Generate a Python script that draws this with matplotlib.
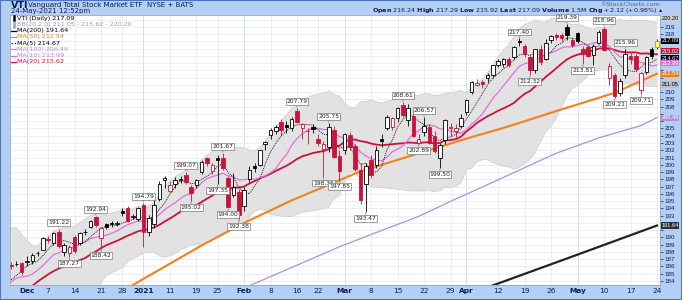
import numpy as np
import pandas as pd
import matplotlib
matplotlib.use('Agg')
import matplotlib.pyplot as plt
from matplotlib.patches import Rectangle

plt.rcParams['font.family'] = ['DejaVu Sans']

# trading days shown on the chart (Nov 25 2020 .. May 24 2021)
holidays = ['2020-11-26', '2020-12-25', '2021-01-01', '2021-01-18',
            '2021-02-15', '2021-04-02']
days = pd.bdate_range('2020-11-25', '2021-05-24', freq='C', holidays=holidays)

# closes before the window (Oct 28 .. Nov 24), only feed the MA / BB
pre_close = [167.5, 169.5, 167.4, 169.5, 172.5, 176.3, 179.7, 179.7, 181.8, 181.5,
             182.9, 181.1, 183.6, 185.7, 184.8, 182.7, 183.4, 182.1, 183.2, 186.1]

# daily OHLC
opens = [186.2, 186.3, 186.5,                                              # Nov
         186.6, 186.7, 187.8, 188.3, 189.8, 189.2, 190.8, 188.0, 187.9, 190.1,
         189.3, 190.7, 191.5, 192.8, 189.9, 191.8, 192.0, 191.9, 193.7, 194.0,
         192.8, 192.5,                                                     # Dec
         194.5, 190.7, 191.8, 195.3, 197.9, 196.4, 197.3, 197.9, 198.6, 196.9,
         197.2, 199.0, 200.9, 199.1, 200.9, 200.9, 198.2, 195.9, 196.3,    # Jan
         194.3, 198.0, 199.9, 200.0, 202.9, 204.1, 204.6, 205.9, 205.5, 205.0,
         207.4, 205.0, 204.7, 205.2, 203.6, 202.2, 202.5, 204.8, 201.2,    # Feb
         202.0, 204.1, 202.6, 199.3, 197.3, 200.6, 200.0, 203.6, 205.0, 205.2,
         206.4, 208.2, 206.2, 206.7, 203.0, 204.5, 205.2, 203.9, 200.9, 203.4,
         205.0, 204.6, 205.3,                                              # Mar
         207.2, 210.0, 211.0, 211.4, 211.9, 212.4, 213.8, 213.9, 214.6, 214.8,
         217.0, 216.3, 214.9, 213.0, 216.0, 214.6, 217.2, 217.9, 217.8, 219.0,
         217.2,                                                            # Apr
         218.1, 216.0, 216.2, 215.1, 216.8, 218.7, 212.0, 212.4, 209.9, 212.3,
         215.0, 215.0, 210.3, 212.8, 215.9, 216.24]                        # May
highs = [186.6, 186.7, 186.6,
         187.5, 187.8, 188.1, 190.0, 190.2, 190.8, 191.22, 189.2, 188.9, 190.4,
         190.7, 191.2, 192.4, 192.94, 191.5, 192.0, 192.3, 192.2, 194.0, 194.3,
         193.2, 194.2,
         194.79, 193.1, 195.3, 197.8, 198.5, 197.8, 198.3, 198.4, 199.07, 197.2,
         198.0, 200.6, 201.1, 200.2, 201.3, 201.67, 198.5, 198.9, 196.6,
         196.9, 199.8, 200.3, 202.1, 203.3, 205.0, 205.5, 206.3, 206.0, 206.6,
         207.79, 205.8, 205.0, 205.6, 204.2, 203.3, 205.75, 205.4, 202.0,
         204.4, 204.5, 202.9, 200.3, 200.2, 201.4, 202.6, 204.2, 206.9, 206.6,
         207.9, 208.61, 208.3, 207.4, 204.2, 206.57, 205.6, 204.6, 203.0, 206.3,
         205.8, 205.6, 207.0,
         209.0, 211.6, 211.8, 211.7, 212.6, 213.8, 214.5, 214.7, 214.8, 216.4,
         217.40, 216.6, 215.2, 216.0, 216.5, 217.3, 217.8, 218.1, 218.2, 219.39,
         217.5,
         218.3, 216.3, 216.5, 216.6, 218.6, 218.96, 214.0, 212.7, 212.0, 215.96,
         215.4, 215.3, 212.8, 215.0, 216.2, 217.29]
lows = [185.6, 186.0, 184.8,
        186.1, 186.3, 187.4, 188.2, 189.2, 189.0, 188.6, 187.4, 187.27, 187.9,
        189.0, 190.3, 191.3, 191.5, 188.42, 191.1, 191.5, 191.6, 193.0, 192.1,
        192.5, 192.2,
        188.7, 190.2, 191.3, 195.0, 196.8, 196.1, 196.8, 197.5, 197.4, 195.02,
        196.8, 198.8, 199.9, 198.8, 197.35, 199.3, 194.00, 195.5, 192.38,
        193.6, 197.6, 199.0, 199.8, 202.1, 203.6, 204.3, 203.9, 204.4, 204.7,
        205.7, 203.6, 202.9, 204.4, 202.6, 198.36, 201.8, 200.9, 197.85,
        201.5, 202.1, 199.2, 194.6, 193.47, 198.2, 199.6, 202.5, 204.8, 204.8,
        205.9, 206.6, 205.4, 203.8, 202.89, 204.0, 202.8, 201.6, 199.50, 202.9,
        203.9, 203.8, 205.1,
        206.8, 209.8, 210.8, 210.6, 211.4, 212.0, 213.4, 213.5, 213.4, 214.6,
        216.3, 214.8, 212.32, 212.7, 213.7, 214.4, 216.8, 217.2, 217.1, 217.2,
        216.2,
        216.8, 213.81, 214.9, 213.8, 216.6, 215.6, 211.0, 209.21, 209.5, 212.0,
        213.9, 212.9, 209.71, 212.5, 214.6, 215.92]
closes = [186.0, 186.4, 185.2,
          186.8, 187.6, 187.9, 189.9, 189.6, 190.6, 188.8, 189.0, 188.7, 188.1,
          190.6, 190.8, 192.3, 191.7, 191.3, 191.5, 191.8, 192.0, 193.3, 192.3,
          192.9, 194.0,
          190.8, 192.7, 194.4, 197.4, 198.2, 197.2, 197.9, 198.1, 197.6, 196.1,
          197.9, 200.4, 200.2, 200.0, 200.6, 199.6, 194.2, 197.0, 193.1,
          196.5, 199.3, 199.5, 202.0, 203.2, 204.8, 205.2, 204.8, 205.25, 206.3,
          205.9, 205.6, 204.6, 204.9, 203.0, 202.9, 205.2, 201.1, 199.2,
          204.2, 202.4, 199.4, 195.1, 199.9, 198.6, 202.0, 203.3, 206.6, 206.4,
          207.8, 206.9, 207.8, 203.9, 203.6, 205.4, 203.0, 201.9, 202.7, 206.2,
          205.2, 205.0, 206.4,
          208.9, 211.4, 211.2, 211.1, 212.4, 213.7, 214.3, 214.5, 213.7, 216.2,
          216.9, 215.2, 213.1, 215.9, 214.2, 216.8, 217.7, 217.55, 217.45, 217.9,
          216.5,
          217.0, 215.2, 215.0, 216.4, 218.3, 215.8, 213.6, 209.5, 211.6, 215.2,
          214.6, 213.2, 212.6, 214.9, 214.97, 217.09]

# long moving averages (they need history beyond the window)
ma50_dates = ['2020-12-24', '2021-01-20', '2021-02-01', '2021-02-12', '2021-03-04',
              '2021-03-22', '2021-04-01', '2021-04-14', '2021-04-27', '2021-05-12',
              '2021-05-24']
ma50_vals = [182.2, 188.9, 192.0, 195.1, 199.1, 201.8, 203.6, 205.3, 207.4, 209.9, 212.54]
ma100_dates = ['2021-01-28', '2021-02-26', '2021-03-08', '2021-03-19', '2021-03-30',
               '2021-04-06', '2021-04-27', '2021-05-07', '2021-05-19', '2021-05-24']
ma100_vals = [182.4, 188.7, 190.4, 192.9, 195.3, 196.6, 201.6, 203.7, 205.4, 206.49]
ma200_dates = ['2021-04-06', '2021-04-29', '2021-05-24']
ma200_vals = [182.6, 187.1, 191.64]

# high / low callouts: (date, 'h' or 'l')
callouts = [('2020-12-09', 'h'), ('2020-12-11', 'l'), ('2020-12-18', 'h'), ('2020-12-21', 'l'),
            ('2021-01-04', 'h'), ('2021-01-14', 'h'), ('2021-01-15', 'l'), ('2021-01-25', 'l'),
            ('2021-01-26', 'h'), ('2021-01-27', 'l'), ('2021-01-29', 'l'), ('2021-02-16', 'h'),
            ('2021-02-23', 'l'), ('2021-02-24', 'h'), ('2021-02-26', 'l'), ('2021-03-05', 'l'),
            ('2021-03-16', 'h'), ('2021-03-19', 'l'), ('2021-03-22', 'h'), ('2021-03-25', 'l'),
            ('2021-04-16', 'h'), ('2021-04-20', 'l'), ('2021-04-29', 'h'), ('2021-05-04', 'l'),
            ('2021-05-10', 'h'), ('2021-05-12', 'l'), ('2021-05-14', 'h'), ('2021-05-19', 'l')]

tick_dates = ['2020-12-01', '2020-12-07', '2020-12-14', '2020-12-21', '2020-12-28',
              '2021-01-04', '2021-01-11', '2021-01-19', '2021-01-25', '2021-02-01',
              '2021-02-08', '2021-02-16', '2021-02-22', '2021-03-01', '2021-03-08',
              '2021-03-15', '2021-03-22', '2021-03-29', '2021-04-01', '2021-04-12',
              '2021-04-19', '2021-04-26', '2021-05-03', '2021-05-10', '2021-05-17',
              '2021-05-24']
tick_labels = ['Dec', '7', '14', '21', '28', '2021', '11', '19', '25', 'Feb', '8', '16',
               '22', 'Mar', '8', '15', '22', '29', 'Apr', '12', '19', '26', 'May', '10',
               '17', '24']
month_labels = {'Dec', '2021', 'Feb', 'Mar', 'Apr', 'May'}

# legend rows and last-value boxes on the price axis
legend_rows = [('VTI (Daily) 217.09', 'black', None),
               ('BB(20,2.0) 211.05 - 215.62 - 220.20', '#a0a0a0', None),
               ('MA(200) 191.64', 'black', '-'),
               ('MA(50) 212.54', '#f0821e', '-'),
               ('MA(5) 214.67', 'black', ':'),
               ('MA(100) 206.49', '#b48cdc', '-'),
               ('MA(10) 213.99', '#e070e0', '-'),
               ('MA(20) 215.62', '#c8143c', '-')]
value_boxes = [('220.20', '#d0d0d0', 'black'), ('217.09', 'black', 'white'),
               ('215.62', '#c8143c', 'white'), ('214.67', 'black', 'white'),
               ('213.99', '#e070e0', 'white'), ('212.54', '#f0821e', 'white'),
               ('211.05', '#c0c0c0', 'black'), ('206.49', '#b48cdc', 'white'),
               ('191.64', '#303030', 'white')]

W, H = 682, 300
NAVY = '#0c1c5c'
RED = '#c8143c'
NARROW = ['Liberation Sans', 'DejaVu Sans']

o, h, l, c = (np.array(v) for v in (opens, highs, lows, closes))
n = len(c)
x = np.arange(n)

s = pd.Series(pre_close + closes)
ma5 = s.rolling(5).mean().to_numpy()[-n:]
ma10 = s.rolling(10).mean().to_numpy()[-n:]
ma20 = s.rolling(20).mean().to_numpy()[-n:]
sd20 = s.rolling(20).std(ddof=0).to_numpy()[-n:]
bb_up, bb_lo = ma20 + 2 * sd20, ma20 - 2 * sd20

fig = plt.figure(figsize=(W / 100, H / 100), dpi=100, facecolor='#b4cff2')
ax = fig.add_axes([10 / W, 1 - 285 / H, 650 / W, 270.5 / H])
ax.set_facecolor('white')
ax.set_xlim(-0.21, 122.57)
ax.set_ylim(183.45, 220.69)

# grid
yticks = list(range(184, 221))
ax.set_yticks(yticks)
ax.grid(True, color='#e3e7ed', lw=0.5)
ax.set_axisbelow(True)
tick_idx = days.get_indexer(pd.to_datetime(tick_dates))
for t, lab in zip(tick_idx, tick_labels):
    if lab in month_labels:
        ax.axvline(t, color='#c4cad4', lw=0.6, zorder=0.5)

# bollinger band
ax.fill_between(x, bb_lo, bb_up, color='#e2e2e2', lw=0, zorder=1)
ax.plot(x, bb_up, color='#cccccc', lw=0.5, zorder=1.1)
ax.plot(x, bb_lo, color='#cccccc', lw=0.5, zorder=1.1)

# moving averages
ax.plot(days.get_indexer(pd.to_datetime(ma200_dates)), ma200_vals, color='#222222', lw=1.6, zorder=2)
ax.plot(days.get_indexer(pd.to_datetime(ma100_dates)), ma100_vals, color='#b48cdc', lw=0.9, zorder=2)
ax.plot(days.get_indexer(pd.to_datetime(ma50_dates)), ma50_vals, color='#f0821e', lw=1.5, zorder=2)
ax.plot(x, ma20, color=RED, lw=1.3, zorder=2.2)
ax.plot(x, ma10, color='#e070e0', lw=0.9, zorder=2.3)
ax.plot(x, ma5, color='black', lw=0.6, ls=(0, (1.2, 1.2)), zorder=2.4)

# candles: black = up vs previous close, red = down; hollow = close above open
prev = np.r_[pre_close[-1], c[:-1]]
cols = np.where(c >= prev, 'black', RED).astype(object)
faces = np.where(c > o, 'white', cols).astype(object)
faces[-1] = '#ffff70'
edges = cols.copy()
edges[-1] = '#a8a800'
ax.vlines(x, l, h, colors=list(cols), lw=0.6, zorder=4)
ax.bar(x, np.maximum(np.abs(c - o), 0.05), 0.66, bottom=np.minimum(o, c),
       color=list(faces), edgecolor=list(edges), lw=0.6, zorder=5)

# high / low callouts
for d, kind in callouts:
    i = days.get_loc(pd.Timestamp(d))
    val = h[i] if kind == 'h' else l[i]
    off = 2.8 if kind == 'h' else -2.8
    ax.annotate(f'{val:.2f}', xy=(i, val), xytext=(0, off), textcoords='offset points',
                ha='center', va='bottom' if kind == 'h' else 'top', fontsize=4.3,
                color='#202020', zorder=8,
                bbox=dict(boxstyle='square,pad=0.15', fc='white', ec='#7a7a7a', lw=0.5),
                arrowprops=dict(arrowstyle='-', color='#7a7a7a', lw=0.5, shrinkA=0, shrinkB=0.5))

# axes cosmetics
ax.yaxis.tick_right()
ax.tick_params(axis='y', labelsize=4.5, colors=NAVY, length=2, pad=1, width=0.5)
box_vals = [float(v) for v, _, _ in value_boxes]
ylabs = [str(t) if min(abs(t - b) for b in box_vals) > 0.7 else '' for t in yticks]
ax.set_yticklabels(ylabs, family=NARROW)
ax.set_xticks(tick_idx)
ax.set_xticklabels(tick_labels)
ax.tick_params(axis='x', labelsize=5.3, colors=NAVY, length=0, pad=2.5)
for lab in ax.get_xticklabels():
    if lab.get_text() in month_labels:
        lab.set_fontweight('bold')
for sp in ax.spines.values():
    sp.set_color('#8ea8cc')
    sp.set_linewidth(0.6)

for val, fc, tc in value_boxes:
    ax.text(1.002, float(val), val, transform=ax.get_yaxis_transform(), fontsize=4.1,
            family=NARROW, color=tc, ha='left', va='center', zorder=10, clip_on=False,
            bbox=dict(boxstyle='square,pad=0.1', fc=fc, ec='none'))

# legend rows inside the plot
for k, (txt, col, ls) in enumerate(legend_rows):
    py = 18.3 + k * 6.2
    if ls is not None:
        fig.add_artist(plt.Line2D([11 / W, 16 / W], [1 - py / H] * 2, color=col, lw=0.9, ls=ls))
    else:
        fig.add_artist(plt.Line2D([13.5 / W, 13.5 / W], [1 - (py + 2) / H, 1 - (py - 2) / H],
                                  color=col, lw=1.8))
    fig.text(17 / W, 1 - py / H, txt, fontsize=4.6, color=col, va='center', ha='left')

# header band
fig.text(11 / W, 1 - 5.0 / H, 'VTI', fontsize=6.8, fontweight='bold', color=NAVY, va='center')
fig.text(28 / W, 1 - 5.0 / H, 'Vanguard Total Stock Market ETF  NYSE + BATS', fontsize=5.0,
         color=NAVY, va='center')
fig.text(11 / W, 1 - 11.3 / H, '24-May-2021 12:52pm', fontsize=5.0, color=NAVY, va='center')
fig.text(660 / W, 1 - 4.0 / H, '\u00a9StockCharts.com', fontsize=4.5, color='#506080',
         va='center', ha='right')
fig.text(663 / W, 1 - 10.4 / H,
         r'$\mathbf{Open}$ 216.24 $\mathbf{High}$ 217.29 $\mathbf{Low}$ 215.92 '
         r'$\mathbf{Last}$ 217.09 $\mathbf{Volume}$ 1.5M $\mathbf{Chg}$ +2.12 (+0.98%) $\blacktriangle$',
         fontsize=4.6, color=NAVY, va='center', ha='right')

fig.add_artist(Rectangle((0, 0), 1, 1, transform=fig.transFigure, fill=False,
                         ec='#4a78c0', lw=1.5))

fig.savefig('out.png', dpi=100, facecolor=fig.get_facecolor())
